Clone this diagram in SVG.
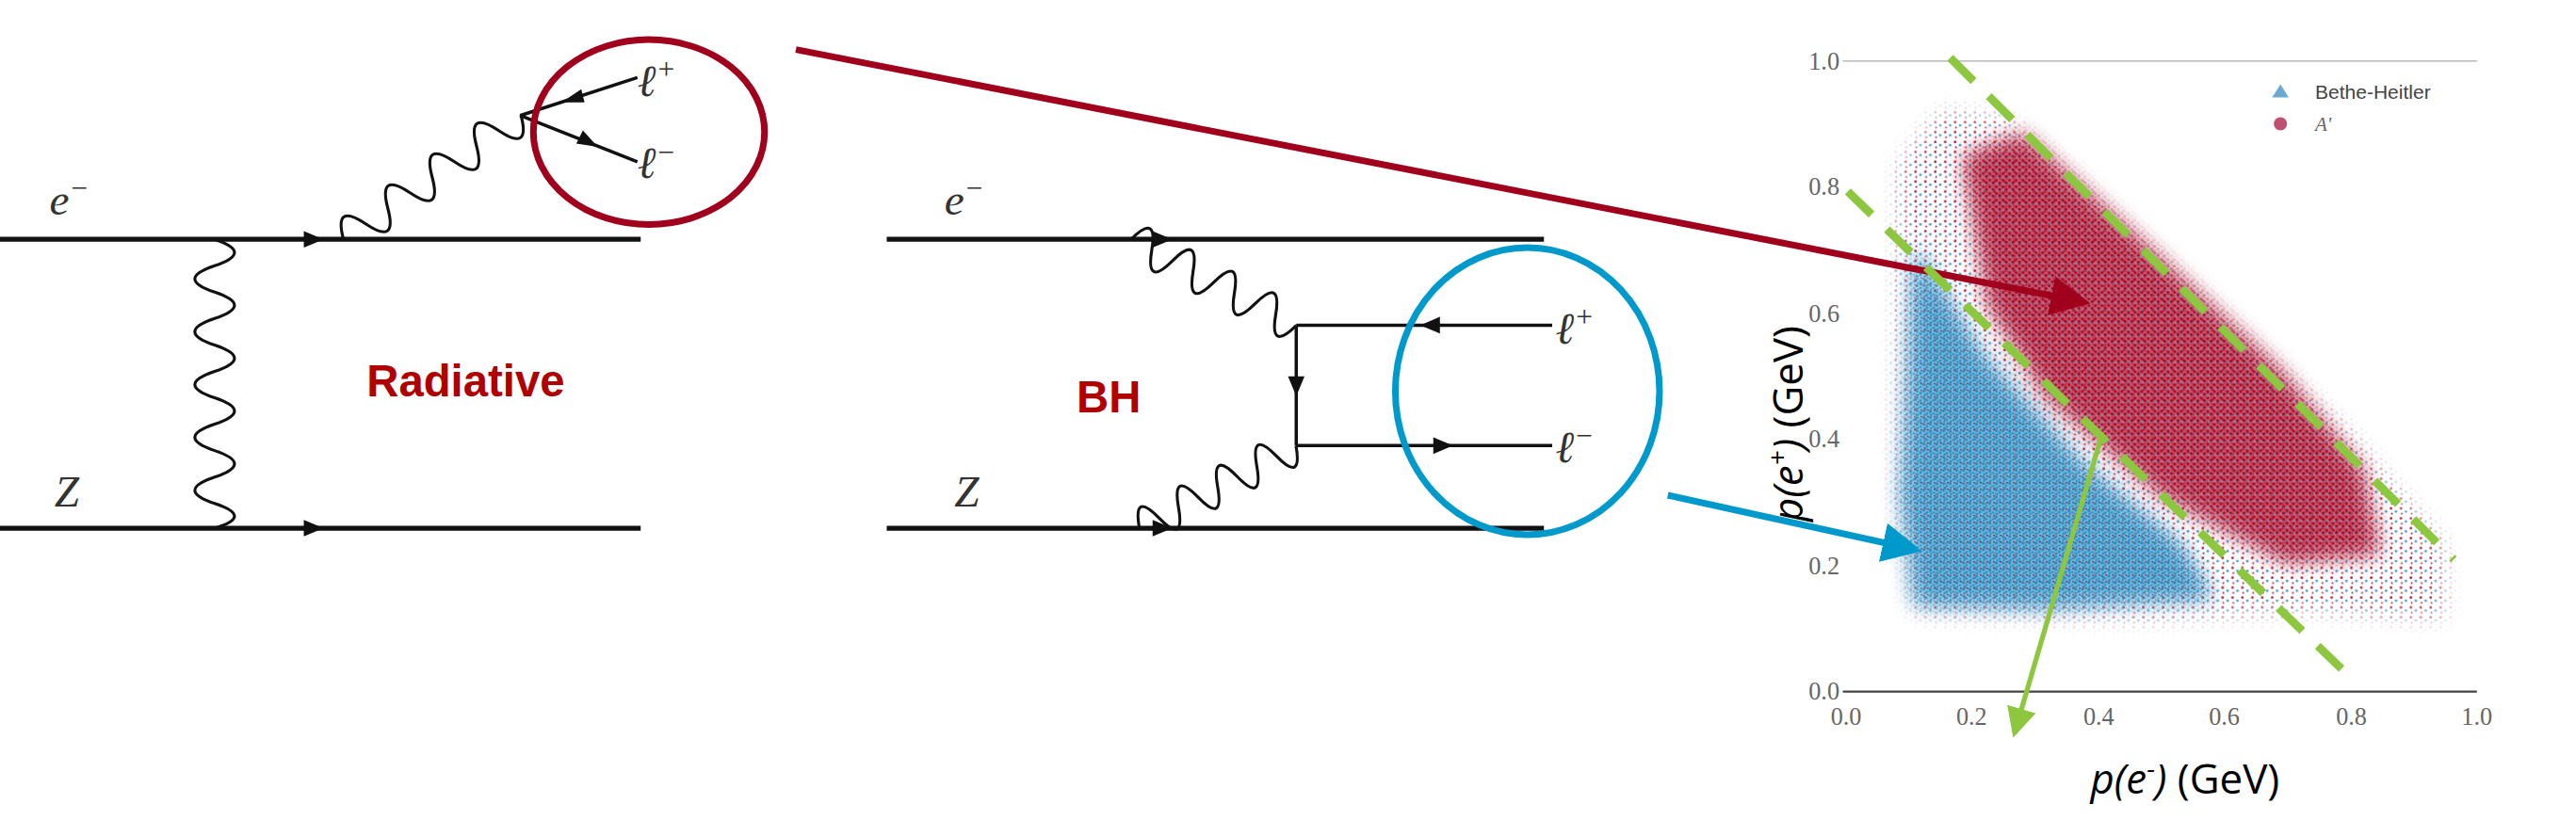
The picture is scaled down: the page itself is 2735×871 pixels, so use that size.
<svg xmlns="http://www.w3.org/2000/svg" width="2735" height="871" viewBox="0 0 2735 871">
<defs>
<style>
.f{stroke:#111;stroke-width:3;fill:none}
.w{stroke:#111;stroke-width:1.8;fill:none}
.ah{fill:#111}
.m{font-family:"Liberation Serif",serif;font-style:italic;font-size:27px;fill:#333}
.lab{font-family:"Liberation Sans",Arial,sans-serif;font-weight:bold;font-size:27px;fill:#b00000}
.tk{font-family:"Liberation Serif",serif;font-size:15px;fill:#666}
.ax{font-family:"Open Sans","Liberation Sans",sans-serif;font-size:25px;fill:#000}
.g{stroke:#8dc63f;stroke-width:5;stroke-dasharray:20 13;fill:none}
</style>
<pattern id="pb" width="4" height="4" patternUnits="userSpaceOnUse">
<circle cx="1" cy="1" r="0.9" fill="#1f86bb"/><circle cx="3" cy="2.5" r="0.8" fill="#2a92c6"/><circle cx="1.5" cy="3.4" r="0.6" fill="#1f86bb"/><circle cx="3.5" cy="0.4" r="0.5" fill="#8e2650"/>
</pattern>
<pattern id="pr" width="4" height="4" patternUnits="userSpaceOnUse">
<circle cx="1" cy="1.2" r="0.9" fill="#a80e2a"/><circle cx="3" cy="2.8" r="0.9" fill="#9c0c28"/><circle cx="3.4" cy="0.5" r="0.5" fill="#c0203c"/><circle cx="1.4" cy="3.5" r="0.5" fill="#6a9ec4"/>
</pattern>
<pattern id="ps" width="6" height="6" patternUnits="userSpaceOnUse">
<circle cx="2" cy="2" r="0.8" fill="#b8203c"/><circle cx="5" cy="4" r="0.8" fill="#4aa0d0"/><circle cx="2.5" cy="5.2" r="0.6" fill="#b8203c"/>
</pattern>
<filter id="bl" x="-20%" y="-20%" width="140%" height="140%"><feGaussianBlur stdDeviation="6"/></filter>
<mask id="mall" maskUnits="userSpaceOnUse" x="1100" y="30" width="420" height="400"><polygon points="1150,100 1175,68 1215,72 1300,150 1420,260 1480,330 1480,375 1400,370 1300,375 1160,372 1148,300" fill="#fff" filter="url(#bl)"/></mask>
<mask id="mb" maskUnits="userSpaceOnUse" x="1100" y="30" width="420" height="400"><polygon points="1160,150 1200,215 1260,280 1320,330 1340,362 1240,368 1160,366 1152,300" fill="#fff" filter="url(#bl)"/></mask>
<mask id="mr" maskUnits="userSpaceOnUse" x="1100" y="30" width="420" height="400"><polygon points="1190,95 1225,82 1300,150 1380,225 1430,285 1440,335 1385,340 1310,300 1240,240 1205,185" fill="#fff" filter="url(#bl)"/></mask>
<marker id="arR" markerWidth="6" markerHeight="6" refX="5" refY="3" orient="auto" markerUnits="strokeWidth"><path d="M0,0 L6,3 L0,6 z" fill="#a0001c"/></marker>
<marker id="arB" markerWidth="6" markerHeight="6" refX="5" refY="3" orient="auto" markerUnits="strokeWidth"><path d="M0,0 L6,3 L0,6 z" fill="#0099cc"/></marker>
<marker id="arG" markerWidth="6" markerHeight="6" refX="5" refY="3" orient="auto" markerUnits="strokeWidth"><path d="M0,0 L6,3 L0,6 z" fill="#8dc63f"/></marker>
</defs>
<rect width="2735" height="871" fill="#fff"/>
<g transform="scale(1.7532)">
<g id="radiative">
<line class="f" x1="0" y1="145" x2="388" y2="145"/>
<line class="f" x1="0" y1="320" x2="388" y2="320"/>
<polygon class="ah" points="196,145 184,140 184,150"/>
<polygon class="ah" points="196,320 184,315 184,325"/>
<path class="w" d="M130,145 q24,8 0,16 t0,16 t0,16 t0,16 t0,16 t0,16 t0,16 t0,16 t0,16 t0,16 t0,15"/>
<path class="w" transform="translate(208,145) rotate(-35)" d="M0,0 q8,-22 16.4,0 t16.4,0 t16.4,0 t16.4,0 t16.4,0 t16.4,0 t16.4,0 t16.4,0"/>
<line class="f" x1="315" y1="70" x2="386" y2="47" style="stroke-width:2"/>
<line class="f" x1="315" y1="70" x2="386" y2="98" style="stroke-width:2"/>
<polygon class="ah" points="340,62 352,54 354,62"/>
<polygon class="ah" points="362,89 349,87 353,79"/>
<text class="m" x="386" y="58">ℓ<tspan font-size="18" dy="-10">+</tspan></text>
<text class="m" x="386" y="108">ℓ<tspan font-size="18" dy="-10">−</tspan></text>
<text class="m" x="30" y="130">e<tspan font-size="18" dy="-10">−</tspan></text>
<text class="m" x="33" y="307">Z</text>
<text class="lab" x="222" y="240">Radiative</text>
</g>
<g id="bh">
<line class="f" x1="537" y1="145" x2="935" y2="145"/>
<line class="f" x1="537" y1="320" x2="935" y2="320"/>
<polygon class="ah" points="710,145 698,140 698,150"/>
<polygon class="ah" points="710,320 698,315 698,325"/>
<path class="w" transform="translate(685,145) rotate(27.5)" d="M0,0 q7,-22 14.1,0 t14.1,0 t14.1,0 t14.1,0 t14.1,0 t14.1,0 t14.1,0 t14.1,0"/>
<path class="w" transform="translate(690,320) rotate(-27.8)" d="M0,0 q7,-22 13.4,0 t13.4,0 t13.4,0 t13.4,0 t13.4,0 t13.4,0 t13.4,0 t13.4,0"/>
<line class="f" x1="785" y1="197" x2="785" y2="270" style="stroke-width:2"/>
<line class="f" x1="785" y1="197" x2="940" y2="197" style="stroke-width:2"/>
<line class="f" x1="785" y1="270" x2="940" y2="270" style="stroke-width:2"/>
<polygon class="ah" points="785,240 780,228 790,228"/>
<polygon class="ah" points="860,197 872,192 872,202"/>
<polygon class="ah" points="880,270 868,265 868,275"/>
<text class="m" x="942" y="208">ℓ<tspan font-size="18" dy="-10">+</tspan></text>
<text class="m" x="942" y="280">ℓ<tspan font-size="18" dy="-10">−</tspan></text>
<text class="m" x="572" y="130">e<tspan font-size="18" dy="-10">−</tspan></text>
<text class="m" x="578" y="307">Z</text>
<text class="lab" x="652" y="250">BH</text>
</g>
<g id="plot">
<line x1="1116" y1="37" x2="1500" y2="37" stroke="#aaa" stroke-width="0.8"/>
<line x1="1116" y1="419" x2="1500" y2="419" stroke="#444" stroke-width="1.2"/>
<g class="tk" text-anchor="end">
<text x="1114" y="42">1.0</text><text x="1114" y="118">0.8</text><text x="1114" y="195">0.6</text><text x="1114" y="271">0.4</text><text x="1114" y="348">0.2</text><text x="1114" y="424">0.0</text>
</g>
<g class="tk" text-anchor="middle">
<text x="1118" y="439">0.0</text><text x="1194" y="439">0.2</text><text x="1271" y="439">0.4</text><text x="1347" y="439">0.6</text><text x="1424" y="439">0.8</text><text x="1500" y="439">1.0</text>
</g>
<rect x="1100" y="30" width="420" height="400" fill="url(#ps)" mask="url(#mall)"/>
<rect x="1100" y="30" width="420" height="400" fill="#3a9acb" opacity="0.7" mask="url(#mb)"/>
<rect x="1100" y="30" width="420" height="400" fill="url(#pb)" mask="url(#mb)"/>
<rect x="1100" y="30" width="420" height="400" fill="#b01232" opacity="0.7" mask="url(#mr)"/>
<rect x="1100" y="30" width="420" height="400" fill="url(#pr)" mask="url(#mr)"/>
<polygon points="1376,59 1381,51 1386,59" fill="#6aaad0"/>
<circle cx="1381" cy="75" r="4" fill="#c05070"/>
<text x="1402" y="60" style="font-family:'Liberation Sans',sans-serif;font-size:12px;fill:#444">Bethe-Heitler</text>
<text x="1402" y="79" style="font-family:'Liberation Serif',serif;font-style:italic;font-size:12px;fill:#666">A'</text>
<text class="ax" transform="translate(1092,316) rotate(-90)"><tspan font-style="italic">p(e<tspan font-size="16" dy="-10">+</tspan><tspan dy="10">)</tspan></tspan> (GeV)</text>
<text class="ax" x="1266" y="481"><tspan font-style="italic">p(e<tspan font-size="16" dy="-10">-</tspan><tspan dy="10">)</tspan></tspan> (GeV)</text>
</g>
<g id="connectors">
<ellipse cx="393" cy="80" rx="70" ry="56" fill="none" stroke="#a0001c" stroke-width="4"/>
<ellipse cx="925" cy="237" rx="80" ry="87" fill="none" stroke="#0099cc" stroke-width="4"/>
<line x1="482" y1="30" x2="1262" y2="183" stroke="#a0001c" stroke-width="4" marker-end="url(#arR)"/>
<line x1="1010" y1="300" x2="1160" y2="333" stroke="#0099cc" stroke-width="4" marker-end="url(#arB)"/>
<line x1="1273" y1="263" x2="1220" y2="444" stroke="#8dc63f" stroke-width="3" marker-end="url(#arG)"/>
<line class="g" x1="1181" y1="35" x2="1486" y2="339"/>
<line class="g" x1="1119" y1="116" x2="1425" y2="412"/>
</g>
</g>
</svg>
